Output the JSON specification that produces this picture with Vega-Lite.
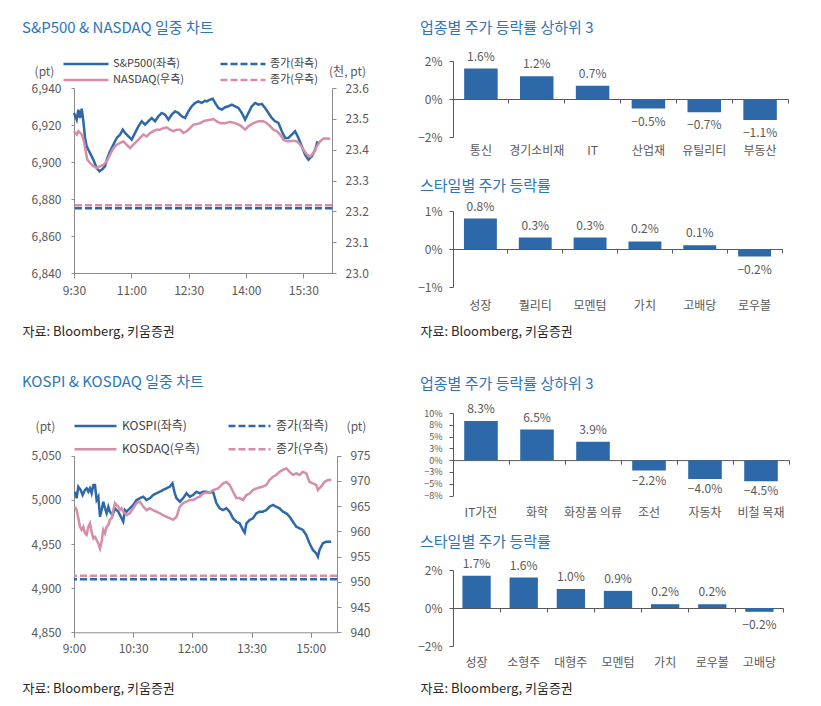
{
  "$schema": "https://vega.github.io/schema/vega-lite/v6.json",
  "background": "white",
  "padding": {"left": 22, "top": 20, "right": 5, "bottom": 5},
  "datasets": {
    "spx": [
      {"t":0,"v":6926.5},{"t":4.2,"v":6922.9},{"t":6.8,"v":6928.3},{"t":9.4,"v":6923.8},{"t":12.1,"v":6928.8},{"t":14.7,"v":6922.0},
      {"t":17.3,"v":6913.0},{"t":19.9,"v":6908.5},{"t":22.5,"v":6906.6},{"t":25.1,"v":6904.9},{"t":30.4,"v":6901.2},{"t":35.6,"v":6896.8},
      {"t":39.8,"v":6895.0},{"t":43.5,"v":6895.8},{"t":48.7,"v":6897.7},{"t":52.4,"v":6902.2},{"t":56.6,"v":6905.8},{"t":61.8,"v":6909.4},
      {"t":67.1,"v":6913.0},{"t":72.3,"v":6914.8},{"t":76.5,"v":6917.5},{"t":80.1,"v":6915.7},{"t":85.4,"v":6913.9},{"t":90.6,"v":6912.1},
      {"t":95.8,"v":6915.7},{"t":101.1,"v":6919.3},{"t":106.3,"v":6922.0},{"t":111.5,"v":6920.2},{"t":116.8,"v":6922.0},{"t":122.0,"v":6923.8},
      {"t":127.3,"v":6922.0},{"t":132.5,"v":6924.7},{"t":137.7,"v":6926.5},{"t":143.0,"v":6925.6},{"t":148.2,"v":6922.9},{"t":153.4,"v":6925.6},
      {"t":158.7,"v":6927.4},{"t":163.9,"v":6926.5},{"t":169.1,"v":6924.7},{"t":174.4,"v":6923.8},{"t":179.6,"v":6927.4},{"t":184.8,"v":6930.1},
      {"t":190.1,"v":6931.9},{"t":195.3,"v":6932.8},{"t":200.5,"v":6931.9},{"t":205.8,"v":6933.1},{"t":208.4,"v":6932.8},{"t":213.7,"v":6933.7},
      {"t":217.9,"v":6934.2},{"t":221.5,"v":6931.9},{"t":226.7,"v":6929.2},{"t":232.0,"v":6928.3},{"t":237.2,"v":6929.6},{"t":242.4,"v":6930.1},
      {"t":247.7,"v":6931.0},{"t":252.9,"v":6930.1},{"t":258.1,"v":6929.2},{"t":263.4,"v":6926.5},{"t":268.6,"v":6922.9},{"t":273.8,"v":6926.5},
      {"t":279.1,"v":6930.1},{"t":284.3,"v":6931.9},{"t":289.5,"v":6931.0},{"t":294.8,"v":6931.4},{"t":300.0,"v":6929.2},{"t":305.2,"v":6926.5},
      {"t":310.5,"v":6923.8},{"t":315.7,"v":6922.0},{"t":320.9,"v":6921.1},{"t":326.2,"v":6916.6},{"t":331.4,"v":6913.0},{"t":336.6,"v":6913.0},
      {"t":341.9,"v":6914.8},{"t":347.1,"v":6916.6},{"t":352.3,"v":6913.0},{"t":357.6,"v":6908.5},{"t":362.8,"v":6903.9},{"t":368.0,"v":6901.2},
      {"t":373.3,"v":6903.1},{"t":378.5,"v":6906.6},{"t":382.2,"v":6911.2}
    ],
    "ndx": [
      {"t":0,"v":23.460},{"t":4.2,"v":23.449},{"t":6.8,"v":23.460},{"t":12.1,"v":23.449},{"t":15.7,"v":23.427},{"t":18.3,"v":23.395},
      {"t":20.9,"v":23.368},{"t":25.1,"v":23.357},{"t":30.4,"v":23.346},{"t":35.6,"v":23.341},{"t":40.8,"v":23.346},{"t":46.1,"v":23.351},
      {"t":51.3,"v":23.362},{"t":56.6,"v":23.384},{"t":61.8,"v":23.405},{"t":67.1,"v":23.416},{"t":72.3,"v":23.422},{"t":77.5,"v":23.427},
      {"t":82.7,"v":23.416},{"t":88.0,"v":23.405},{"t":93.2,"v":23.416},{"t":98.4,"v":23.427},{"t":103.7,"v":23.438},{"t":108.9,"v":23.449},
      {"t":114.1,"v":23.443},{"t":119.4,"v":23.454},{"t":124.6,"v":23.460},{"t":129.9,"v":23.465},{"t":135.1,"v":23.465},{"t":140.3,"v":23.470},
      {"t":145.6,"v":23.472},{"t":150.8,"v":23.465},{"t":156.0,"v":23.460},{"t":161.3,"v":23.465},{"t":166.5,"v":23.465},{"t":171.7,"v":23.454},
      {"t":177.0,"v":23.460},{"t":182.2,"v":23.470},{"t":187.4,"v":23.481},{"t":192.7,"v":23.483},{"t":197.9,"v":23.486},{"t":203.1,"v":23.492},
      {"t":205.8,"v":23.494},{"t":213.7,"v":23.497},{"t":218.9,"v":23.499},{"t":224.1,"v":23.492},{"t":229.4,"v":23.486},{"t":237.2,"v":23.486},
      {"t":245.1,"v":23.490},{"t":252.9,"v":23.486},{"t":260.8,"v":23.479},{"t":268.6,"v":23.465},{"t":273.8,"v":23.476},{"t":281.7,"v":23.486},
      {"t":289.5,"v":23.492},{"t":297.4,"v":23.492},{"t":302.6,"v":23.486},{"t":307.9,"v":23.476},{"t":313.1,"v":23.465},{"t":318.4,"v":23.460},
      {"t":323.6,"v":23.449},{"t":328.8,"v":23.432},{"t":334.1,"v":23.427},{"t":339.3,"v":23.427},{"t":344.5,"v":23.429},{"t":349.8,"v":23.427},
      {"t":355.0,"v":23.416},{"t":360.2,"v":23.400},{"t":365.5,"v":23.384},{"t":370.7,"v":23.378},{"t":375.9,"v":23.389},{"t":381.2,"v":23.411},
      {"t":386.4,"v":23.427},{"t":391.6,"v":23.436},{"t":396.9,"v":23.436},{"t":402.1,"v":23.435}
    ],
    "usClose": [{"idx":"S&P500","v":6875},{"idx":"NASDAQ","v":23.22}],
    "kospi": [
      {"t":1.5,"v":5009.2},{"t":4.0,"v":5001.8},{"t":6.6,"v":5014.9},{"t":10.1,"v":5011.2},{"t":13.1,"v":5005.5},{"t":16.7,"v":5011.2},
      {"t":19.2,"v":5013.1},{"t":21.8,"v":5009.2},{"t":24.3,"v":5013.1},{"t":26.8,"v":5007.4},{"t":29.4,"v":5016.8},{"t":31.9,"v":5016.8},
      {"t":34.4,"v":4999.8},{"t":37.0,"v":5003.6},{"t":39.5,"v":4980.9},{"t":42.0,"v":4988.5},{"t":44.6,"v":4997.9},{"t":47.1,"v":4990.4},
      {"t":49.6,"v":4984.8},{"t":52.2,"v":4992.2},{"t":54.6,"v":4986.6},{"t":58.7,"v":4982.8},{"t":62.2,"v":4990.4},{"t":67.3,"v":4986.6},
      {"t":72.4,"v":4979.1},{"t":74.9,"v":4975.3},{"t":77.4,"v":4988.5},{"t":79.9,"v":4986.6},{"t":85.0,"v":4990.4},{"t":90.1,"v":4994.2},
      {"t":95.1,"v":4999.8},{"t":100.2,"v":5001.8},{"t":105.3,"v":5003.6},{"t":110.3,"v":4999.8},{"t":115.4,"v":5001.8},{"t":120.4,"v":5005.5},
      {"t":125.5,"v":5007.4},{"t":130.5,"v":5009.2},{"t":135.6,"v":5011.2},{"t":140.7,"v":5013.1},{"t":145.7,"v":5014.9},{"t":149.8,"v":5018.7},
      {"t":153.3,"v":5007.4},{"t":155.9,"v":5001.8},{"t":160.9,"v":4997.9},{"t":165.9,"v":5001.8},{"t":171.1,"v":5007.4},{"t":176.1,"v":5003.6},
      {"t":181.1,"v":5005.5},{"t":186.2,"v":5009.2},{"t":191.3,"v":5007.4},{"t":196.3,"v":5009.2},{"t":201.4,"v":5009.2},{"t":206.4,"v":5008.0},
      {"t":211.5,"v":5009.2},{"t":216.6,"v":4996.1},{"t":221.6,"v":4990.4},{"t":226.6,"v":4988.5},{"t":231.7,"v":4990.4},{"t":236.8,"v":4986.6},
      {"t":241.8,"v":4979.1},{"t":246.9,"v":4975.3},{"t":252.0,"v":4973.4},{"t":257.0,"v":4965.9},{"t":259.6,"v":4962.8},{"t":262.2,"v":4973.4},
      {"t":267.2,"v":4977.2},{"t":272.2,"v":4979.1},{"t":277.3,"v":4984.8},{"t":282.3,"v":4986.6},{"t":287.4,"v":4986.6},{"t":292.5,"v":4988.5},
      {"t":297.5,"v":4992.2},{"t":302.5,"v":4994.2},{"t":307.6,"v":4992.2},{"t":312.7,"v":4990.4},{"t":317.7,"v":4986.6},{"t":322.8,"v":4984.8},
      {"t":327.9,"v":4980.9},{"t":332.9,"v":4975.3},{"t":338.1,"v":4969.6},{"t":343.1,"v":4967.8},{"t":348.1,"v":4965.9},{"t":353.2,"v":4960.2},
      {"t":358.2,"v":4950.8},{"t":363.3,"v":4943.2},{"t":368.4,"v":4939.5},{"t":370.9,"v":4935.6},{"t":373.4,"v":4943.2},{"t":378.4,"v":4950.8},
      {"t":383.6,"v":4952.6},{"t":391.2,"v":4952.6}
    ],
    "kosdaq": [
      {"t":1.5,"v":964.9},{"t":4.0,"v":964.2},{"t":6.6,"v":962.6},{"t":9.1,"v":960.9},{"t":11.6,"v":960.3},{"t":14.2,"v":960.9},
      {"t":16.7,"v":959.6},{"t":19.2,"v":959.3},{"t":21.8,"v":960.9},{"t":24.3,"v":961.6},{"t":26.8,"v":959.9},{"t":29.4,"v":958.6},
      {"t":31.9,"v":958.9},{"t":34.4,"v":958.3},{"t":37.0,"v":957.6},{"t":39.5,"v":956.6},{"t":42.0,"v":958.0},{"t":44.6,"v":960.3},
      {"t":47.1,"v":959.6},{"t":49.6,"v":960.9},{"t":52.2,"v":961.3},{"t":54.6,"v":962.3},{"t":57.2,"v":962.6},{"t":59.7,"v":964.2},
      {"t":62.2,"v":965.6},{"t":64.8,"v":965.2},{"t":67.3,"v":964.9},{"t":69.8,"v":964.2},{"t":72.4,"v":964.6},{"t":74.9,"v":963.9},
      {"t":77.4,"v":963.6},{"t":79.9,"v":963.2},{"t":85.0,"v":963.6},{"t":90.1,"v":964.6},{"t":95.1,"v":965.6},{"t":100.2,"v":965.9},
      {"t":105.3,"v":964.9},{"t":110.3,"v":964.2},{"t":115.4,"v":964.6},{"t":120.4,"v":964.2},{"t":125.5,"v":963.9},{"t":130.5,"v":963.6},
      {"t":135.6,"v":963.2},{"t":140.7,"v":962.9},{"t":145.7,"v":962.6},{"t":150.7,"v":962.3},{"t":155.9,"v":962.9},{"t":160.9,"v":964.9},
      {"t":165.9,"v":965.6},{"t":171.1,"v":965.9},{"t":176.1,"v":966.2},{"t":181.1,"v":966.2},{"t":186.2,"v":966.6},{"t":191.3,"v":966.9},
      {"t":196.3,"v":967.5},{"t":201.4,"v":967.7},{"t":206.4,"v":967.7},{"t":211.5,"v":968.2},{"t":219.1,"v":968.5},{"t":226.6,"v":969.5},
      {"t":231.7,"v":969.8},{"t":236.8,"v":969.2},{"t":241.8,"v":967.9},{"t":246.9,"v":966.6},{"t":252.0,"v":966.6},{"t":257.0,"v":966.2},
      {"t":262.2,"v":967.2},{"t":267.2,"v":967.5},{"t":272.2,"v":968.2},{"t":277.3,"v":968.5},{"t":282.3,"v":968.7},{"t":287.4,"v":968.9},
      {"t":292.5,"v":969.2},{"t":297.5,"v":970.2},{"t":302.5,"v":970.8},{"t":307.6,"v":971.2},{"t":312.7,"v":971.8},{"t":317.7,"v":972.2},
      {"t":322.8,"v":972.5},{"t":327.9,"v":971.8},{"t":332.9,"v":971.2},{"t":338.1,"v":971.5},{"t":343.1,"v":971.2},{"t":348.1,"v":971.8},
      {"t":353.2,"v":971.5},{"t":358.2,"v":969.8},{"t":363.3,"v":969.5},{"t":368.4,"v":969.2},{"t":370.9,"v":968.2},{"t":376.0,"v":968.9},
      {"t":381.0,"v":969.8},{"t":386.1,"v":970.2},{"t":391.2,"v":970.2}
    ],
    "krClose": [{"idx":"KOSPI","v":4910},{"idx":"KOSDAQ","v":951.2}],
    "usSector": [
      {"name":"통신","chg":0.016},{"name":"경기소비재","chg":0.012},{"name":"IT","chg":0.007},
      {"name":"산업재","chg":-0.005},{"name":"유틸리티","chg":-0.007},{"name":"부동산","chg":-0.011}
    ],
    "usStyle": [
      {"name":"성장","chg":0.008},{"name":"퀄리티","chg":0.003},{"name":"모멘텀","chg":0.003},
      {"name":"가치","chg":0.002},{"name":"고배당","chg":0.001},{"name":"로우볼","chg":-0.002}
    ],
    "krSector": [
      {"name":"IT가전","chg":0.083},{"name":"화학","chg":0.065},{"name":"화장품 의류","chg":0.039},
      {"name":"조선","chg":-0.022},{"name":"자동차","chg":-0.04},{"name":"비철 목재","chg":-0.045}
    ],
    "krStyle": [
      {"name":"성장","chg":0.017},{"name":"소형주","chg":0.016},{"name":"대형주","chg":0.01},{"name":"모멘텀","chg":0.009},
      {"name":"가치","chg":0.002},{"name":"로우볼","chg":0.002},{"name":"고배당","chg":-0.002}
    ]
  },
  "spacing": 47,
  "hconcat": [
    {
      "spacing": 88,
      "bounds": "flush",
      "resolve": {"scale": {"color": "independent", "strokeDash": "independent"}},
      "vconcat": [
        {
          "width": 258,
          "height": 212,
          "title": {"text": "S&P500 & NASDAQ 일중 차트", "dx": -52, "offset": 21.5},
          "layer": [
            {
              "layer": [
                {
                  "data": {"name": "spx"},
                  "mark": {"type": "line", "strokeWidth": 2.5},
                  "encoding": {
                    "x": {"field": "t", "type": "quantitative",
                      "scale": {"domain": [0, 405], "nice": false, "zero": false},
                      "axis": {"values": [0, 90, 180, 270, 360],
                        "labelExpr": "['9:30','11:00','12:30','14:00','15:30'][datum.value / 90]",
                        "tickSize": 5, "labelPadding": 7,
                        "title": "자료: Bloomberg, 키움증권", "titleX": -52, "titleY": 62, "titleAlign": "left",
                        "titleAnchor": "start", "titleBaseline": "alphabetic", "titleFontSize": 13, "titleColor": "#262626"}},
                    "y": {"field": "v", "type": "quantitative",
                      "scale": {"domain": [6840, 6940], "range": [212, 27], "nice": false, "zero": false},
                      "axis": {"orient": "left", "values": [6840, 6860, 6880, 6900, 6920, 6940], "format": ",.0f",
                        "tickSize": 3, "labelPadding": 10, "title": "(pt)", "titleAngle": 0, "titleAlign": "center",
                        "titleBaseline": "middle", "titleX": -30, "titleY": 10}},
                    "color": {"datum": "S&P500(좌측)", "type": "nominal",
                      "scale": {"domain": ["S&P500(좌측)", "종가(좌측)", "NASDAQ(우측)", "종가(우측)"],
                        "range": ["#2D69A8", "#2D69A8", "#D68EA6", "#D68EA6"]},
                      "legend": {"orient": "none", "legendX": -12, "legendY": -4, "direction": "horizontal", "columns": 2,
                        "title": null, "symbolType": "stroke", "symbolSize": 2025, "symbolStrokeWidth": 2.5,
                        "clipHeight": 14, "rowPadding": 2, "columnPadding": 34, "labelOffset": 3, "labelFontSize": 11}},
                    "strokeDash": {"datum": "S&P500(좌측)", "type": "nominal",
                      "scale": {"domain": ["S&P500(좌측)", "종가(좌측)", "NASDAQ(우측)", "종가(우측)"],
                        "range": [[1, 0], [7, 3], [1, 0], [7, 3]]},
                      "legend": {"orient": "none", "legendX": -12, "legendY": -4, "direction": "horizontal", "columns": 2,
                        "title": null, "symbolType": "stroke", "symbolSize": 2025, "symbolStrokeWidth": 2.5,
                        "clipHeight": 14, "rowPadding": 2, "columnPadding": 34, "labelOffset": 3, "labelFontSize": 11}}
                  }
                },
                {
                  "data": {"name": "usClose"},
                  "transform": [{"filter": "datum.idx === 'S&P500'"}],
                  "mark": {"type": "rule", "strokeWidth": 2.5},
                  "encoding": {
                    "y": {"field": "v", "type": "quantitative",
                      "scale": {"domain": [6840, 6940], "range": [212, 27], "nice": false, "zero": false},
                      "axis": {"orient": "left", "values": [6840, 6860, 6880, 6900, 6920, 6940], "format": ",.0f",
                        "tickSize": 3, "labelPadding": 10, "title": "(pt)", "titleAngle": 0, "titleAlign": "center",
                        "titleBaseline": "middle", "titleX": -30, "titleY": 10}},
                    "color": {"datum": "종가(좌측)", "type": "nominal"},
                    "strokeDash": {"datum": "종가(좌측)", "type": "nominal"}
                  }
                }
              ]
            },
            {
              "layer": [
                {
                  "data": {"name": "ndx"},
                  "mark": {"type": "line", "strokeWidth": 2.5},
                  "encoding": {
                    "x": {"field": "t", "type": "quantitative", "scale": {"domain": [0, 405], "nice": false, "zero": false}},
                    "y": {"field": "v", "type": "quantitative",
                      "scale": {"domain": [23.0, 23.6], "range": [212, 27], "nice": false, "zero": false},
                      "axis": {"orient": "right", "values": [23.0, 23.1, 23.2, 23.3, 23.4, 23.5, 23.6], "format": ".1f",
                        "tickSize": 4, "labelPadding": 9, "title": "(천, pt)", "titleAngle": 0, "titleAlign": "center",
                        "titleBaseline": "middle", "titleX": 15, "titleY": 10}},
                    "color": {"datum": "NASDAQ(우측)", "type": "nominal"},
                    "strokeDash": {"datum": "NASDAQ(우측)", "type": "nominal"}
                  }
                },
                {
                  "data": {"name": "usClose"},
                  "transform": [{"filter": "datum.idx === 'NASDAQ'"}],
                  "mark": {"type": "rule", "strokeWidth": 2.5},
                  "encoding": {
                    "y": {"field": "v", "type": "quantitative",
                      "scale": {"domain": [23.0, 23.6], "range": [212, 27], "nice": false, "zero": false},
                      "axis": {"orient": "right", "values": [23.0, 23.1, 23.2, 23.3, 23.4, 23.5, 23.6], "format": ".1f",
                        "tickSize": 4, "labelPadding": 9, "title": "(천, pt)", "titleAngle": 0, "titleAlign": "center",
                        "titleBaseline": "middle", "titleX": 15, "titleY": 10}},
                    "color": {"datum": "종가(우측)", "type": "nominal"},
                    "strokeDash": {"datum": "종가(우측)", "type": "nominal"}
                  }
                }
              ]
            }
          ],
          "resolve": {"scale": {"y": "independent"}, "axis": {"y": "independent"}}
        },
        {
          "width": 263,
          "height": 271.3,
          "title": {"text": "KOSPI & KOSDAQ 일중 차트", "dx": -52, "offset": -29},
          "layer": [
            {
              "layer": [
                {
                  "data": {"name": "kospi"},
                  "mark": {"type": "line", "strokeWidth": 2.5},
                  "encoding": {
                    "x": {"field": "t", "type": "quantitative",
                      "scale": {"domain": [0, 400], "nice": false, "zero": false},
                      "axis": {"values": [0, 90, 180, 270, 360],
                        "labelExpr": "['9:00','10:30','12:00','13:30','15:00'][datum.value / 90]",
                        "tickSize": 5, "labelPadding": 6,
                        "title": "자료: Bloomberg, 키움증권", "titleX": -52, "titleY": 60, "titleAlign": "left",
                        "titleAnchor": "start", "titleBaseline": "alphabetic", "titleFontSize": 13, "titleColor": "#262626"}},
                    "y": {"field": "v", "type": "quantitative",
                      "scale": {"domain": [4850, 5050], "range": [271.3, 94.7], "nice": false, "zero": false},
                      "axis": {"orient": "left", "values": [4850, 4900, 4950, 5000, 5050], "format": ",.0f",
                        "tickSize": 3, "labelPadding": 10, "title": "(pt)", "titleAngle": 0, "titleAlign": "center",
                        "titleBaseline": "middle", "titleX": -29, "titleY": 65.7}},
                    "color": {"datum": "KOSPI(좌측)", "type": "nominal",
                      "scale": {"domain": ["KOSPI(좌측)", "종가(좌측)", "KOSDAQ(우측)", "종가(우측)"],
                        "range": ["#2D69A8", "#2D69A8", "#D68EA6", "#D68EA6"]},
                      "legend": {"orient": "none", "legendX": -1, "legendY": 57.9, "direction": "horizontal", "columns": 2,
                        "title": null, "symbolType": "stroke", "symbolSize": 1764, "symbolStrokeWidth": 2.5,
                        "clipHeight": 14, "rowPadding": 9.4, "columnPadding": 27, "labelOffset": 4}},
                    "strokeDash": {"datum": "KOSPI(좌측)", "type": "nominal",
                      "scale": {"domain": ["KOSPI(좌측)", "종가(좌측)", "KOSDAQ(우측)", "종가(우측)"],
                        "range": [[1, 0], [7, 3], [1, 0], [7, 3]]},
                      "legend": {"orient": "none", "legendX": -1, "legendY": 57.9, "direction": "horizontal", "columns": 2,
                        "title": null, "symbolType": "stroke", "symbolSize": 1764, "symbolStrokeWidth": 2.5,
                        "clipHeight": 14, "rowPadding": 9.4, "columnPadding": 27, "labelOffset": 4}}
                  }
                },
                {
                  "data": {"name": "krClose"},
                  "transform": [{"filter": "datum.idx === 'KOSPI'"}],
                  "mark": {"type": "rule", "strokeWidth": 2.5},
                  "encoding": {
                    "y": {"field": "v", "type": "quantitative",
                      "scale": {"domain": [4850, 5050], "range": [271.3, 94.7], "nice": false, "zero": false},
                      "axis": {"orient": "left", "values": [4850, 4900, 4950, 5000, 5050], "format": ",.0f",
                        "tickSize": 3, "labelPadding": 10, "title": "(pt)", "titleAngle": 0, "titleAlign": "center",
                        "titleBaseline": "middle", "titleX": -29, "titleY": 65.7}},
                    "color": {"datum": "종가(좌측)", "type": "nominal"},
                    "strokeDash": {"datum": "종가(좌측)", "type": "nominal"}
                  }
                }
              ]
            },
            {
              "layer": [
                {
                  "data": {"name": "kosdaq"},
                  "mark": {"type": "line", "strokeWidth": 2.5},
                  "encoding": {
                    "x": {"field": "t", "type": "quantitative", "scale": {"domain": [0, 400], "nice": false, "zero": false}},
                    "y": {"field": "v", "type": "quantitative",
                      "scale": {"domain": [940, 975], "range": [271.3, 94.7], "nice": false, "zero": false},
                      "axis": {"orient": "right", "values": [940, 945, 950, 955, 960, 965, 970, 975], "format": "d",
                        "tickSize": 4, "labelPadding": 9, "title": "(pt)", "titleAngle": 0, "titleAlign": "center",
                        "titleBaseline": "middle", "titleX": 19, "titleY": 65.7}},
                    "color": {"datum": "KOSDAQ(우측)", "type": "nominal"},
                    "strokeDash": {"datum": "KOSDAQ(우측)", "type": "nominal"}
                  }
                },
                {
                  "data": {"name": "krClose"},
                  "transform": [{"filter": "datum.idx === 'KOSDAQ'"}],
                  "mark": {"type": "rule", "strokeWidth": 2.5},
                  "encoding": {
                    "y": {"field": "v", "type": "quantitative",
                      "scale": {"domain": [940, 975], "range": [271.3, 94.7], "nice": false, "zero": false},
                      "axis": {"orient": "right", "values": [940, 945, 950, 955, 960, 965, 970, 975], "format": "d",
                        "tickSize": 4, "labelPadding": 9, "title": "(pt)", "titleAngle": 0, "titleAlign": "center",
                        "titleBaseline": "middle", "titleX": 19, "titleY": 65.7}},
                    "color": {"datum": "종가(우측)", "type": "nominal"},
                    "strokeDash": {"datum": "종가(우측)", "type": "nominal"}
                  }
                }
              ]
            }
          ],
          "resolve": {"scale": {"y": "independent"}, "axis": {"y": "independent"}}
        }
      ]
    },
    {
      "spacing": 74,
      "bounds": "flush",
      "vconcat": [
        {
          "width": 335,
          "height": 76,
          "title": {"text": "업종별 주가 등락률 상하위 3", "dx": -33, "offset": 15},
          "data": {"name": "usSector"},
          "layer": [
            {
              "mark": {"type": "bar", "width": {"band": 0.6}, "color": "#2D69A8"},
              "encoding": {
                "x": {"field": "name", "type": "nominal",
                  "scale": {"domain": ["통신", "경기소비재", "IT", "산업재", "유틸리티", "부동산"], "paddingInner": 0, "paddingOuter": 0},
                  "axis": {"orient": "bottom", "domain": false, "ticks": false, "labelAngle": 0, "labelPadding": 8, "title": null}},
                "y": {"field": "chg", "type": "quantitative", "scale": {"domain": [-0.02, 0.02], "nice": false},
                  "axis": {"values": [-0.02, 0, 0.02], "format": ".0%", "title": null, "tickSize": 4, "labelPadding": 7,
                    "domainColor": "#595959", "tickColor": "#595959"}}
              }
            },
            {
              "transform": [{"filter": "datum.chg >= 0"}],
              "mark": {"type": "text", "dy": -12, "baseline": "middle"},
              "encoding": {
                "x": {"field": "name", "type": "nominal",
                  "axis": {"orient": "bottom", "offset": -38, "labels": false, "ticks": true, "tickSize": 4,
                    "bandPosition": 1, "domain": true, "title": null, "domainColor": "#595959", "tickColor": "#595959"}},
                "y": {"field": "chg", "type": "quantitative",
                  "axis": {"values": [-0.02, 0, 0.02], "format": ".0%", "title": null, "tickSize": 4, "labelPadding": 7,
                    "domainColor": "#595959", "tickColor": "#595959"}},
                "text": {"field": "chg", "type": "quantitative", "format": ".1%"}
              }
            },
            {
              "transform": [{"filter": "datum.chg < 0"}],
              "mark": {"type": "text", "dy": 13, "baseline": "middle"},
              "encoding": {
                "x": {"field": "name", "type": "nominal", "axis": null},
                "y": {"field": "chg", "type": "quantitative",
                  "axis": {"values": [-0.02, 0, 0.02], "format": ".0%", "title": null, "tickSize": 4, "labelPadding": 7,
                    "domainColor": "#595959", "tickColor": "#595959"}},
                "text": {"field": "chg", "type": "quantitative", "format": ".1%"}
              }
            }
          ],
          "resolve": {"axis": {"x": "independent"}}
        },
        {
          "width": 329,
          "height": 76,
          "title": {"text": "스타일별 주가 등락률", "dx": -33, "offset": 7},
          "data": {"name": "usStyle"},
          "layer": [
            {
              "mark": {"type": "bar", "width": {"band": 0.6}, "color": "#2D69A8"},
              "encoding": {
                "x": {"field": "name", "type": "nominal",
                  "scale": {"domain": ["성장", "퀄리티", "모멘텀", "가치", "고배당", "로우볼"], "paddingInner": 0, "paddingOuter": 0},
                  "axis": {"orient": "bottom", "domain": false, "ticks": false, "labelAngle": 0, "labelPadding": 13,
                    "title": "자료: Bloomberg, 키움증권", "titleX": -33, "titleY": 48, "titleAlign": "left",
                    "titleAnchor": "start", "titleBaseline": "alphabetic", "titleFontSize": 13, "titleColor": "#262626"}},
                "y": {"field": "chg", "type": "quantitative", "scale": {"domain": [-0.01, 0.01], "nice": false},
                  "axis": {"values": [-0.01, 0, 0.01], "format": ".0%", "title": null, "tickSize": 4, "labelPadding": 7,
                    "domainColor": "#595959", "tickColor": "#595959"}}
              }
            },
            {
              "transform": [{"filter": "datum.chg >= 0"}],
              "mark": {"type": "text", "dy": -12, "baseline": "middle"},
              "encoding": {
                "x": {"field": "name", "type": "nominal",
                  "axis": {"orient": "bottom", "offset": -38, "labels": false, "ticks": true, "tickSize": 4,
                    "bandPosition": 1, "domain": true, "title": null, "domainColor": "#595959", "tickColor": "#595959"}},
                "y": {"field": "chg", "type": "quantitative",
                  "axis": {"values": [-0.01, 0, 0.01], "format": ".0%", "title": null, "tickSize": 4, "labelPadding": 7,
                    "domainColor": "#595959", "tickColor": "#595959"}},
                "text": {"field": "chg", "type": "quantitative", "format": ".1%"}
              }
            },
            {
              "transform": [{"filter": "datum.chg < 0"}],
              "mark": {"type": "text", "dy": 13, "baseline": "middle"},
              "encoding": {
                "x": {"field": "name", "type": "nominal", "axis": null},
                "y": {"field": "chg", "type": "quantitative",
                  "axis": {"values": [-0.01, 0, 0.01], "format": ".0%", "title": null, "tickSize": 4, "labelPadding": 7,
                    "domainColor": "#595959", "tickColor": "#595959"}},
                "text": {"field": "chg", "type": "quantitative", "format": ".1%"}
              }
            }
          ],
          "resolve": {"axis": {"x": "independent"}}
        },
        {
          "width": 336,
          "height": 134.5,
          "title": {"text": "업종별 주가 등락률 상하위 3", "dx": -33, "offset": -31},
          "data": {"name": "krSector"},
          "layer": [
            {
              "mark": {"type": "bar", "width": {"band": 0.6}, "color": "#2D69A8"},
              "encoding": {
                "x": {"field": "name", "type": "nominal",
                  "scale": {"domain": ["IT가전", "화학", "화장품 의류", "조선", "자동차", "비철 목재"], "paddingInner": 0, "paddingOuter": 0},
                  "axis": {"orient": "bottom", "domain": false, "ticks": false, "labelAngle": 0, "labelPadding": 12, "title": null}},
                "y": {"field": "chg", "type": "quantitative", "scale": {"domain": [-0.075, 0.1], "range": [134.5, 52], "nice": false},
                  "axis": {"values": [-0.075, -0.05, -0.025, 0, 0.025, 0.05, 0.075, 0.1], "format": ".0%", "title": null,
                    "tickSize": 4, "labelPadding": 7, "labelFontSize": 9, "domainColor": "#595959", "tickColor": "#595959"}}
              }
            },
            {
              "transform": [{"filter": "datum.chg >= 0"}],
              "mark": {"type": "text", "dy": -12, "baseline": "middle"},
              "encoding": {
                "x": {"field": "name", "type": "nominal",
                  "axis": {"orient": "bottom", "offset": -35.4, "labels": false, "ticks": true, "tickSize": 4,
                    "bandPosition": 1, "domain": true, "title": null, "domainColor": "#595959", "tickColor": "#595959"}},
                "y": {"field": "chg", "type": "quantitative",
                  "axis": {"values": [-0.075, -0.05, -0.025, 0, 0.025, 0.05, 0.075, 0.1], "format": ".0%", "title": null,
                    "tickSize": 4, "labelPadding": 7, "labelFontSize": 9, "domainColor": "#595959", "tickColor": "#595959"}},
                "text": {"field": "chg", "type": "quantitative", "format": ".1%"}
              }
            },
            {
              "transform": [{"filter": "datum.chg < 0"}],
              "mark": {"type": "text", "dy": 10, "baseline": "middle"},
              "encoding": {
                "x": {"field": "name", "type": "nominal", "axis": null},
                "y": {"field": "chg", "type": "quantitative",
                  "axis": {"values": [-0.075, -0.05, -0.025, 0, 0.025, 0.05, 0.075, 0.1], "format": ".0%", "title": null,
                    "tickSize": 4, "labelPadding": 7, "labelFontSize": 9, "domainColor": "#595959", "tickColor": "#595959"}},
                "text": {"field": "chg", "type": "quantitative", "format": ".1%"}
              }
            }
          ],
          "resolve": {"axis": {"x": "independent"}}
        },
        {
          "width": 330,
          "height": 76,
          "title": {"text": "스타일별 주가 등락률", "dx": -33, "offset": 8},
          "data": {"name": "krStyle"},
          "layer": [
            {
              "mark": {"type": "bar", "width": {"band": 0.6}, "color": "#2D69A8"},
              "encoding": {
                "x": {"field": "name", "type": "nominal",
                  "scale": {"domain": ["성장", "소형주", "대형주", "모멘텀", "가치", "로우볼", "고배당"], "paddingInner": 0, "paddingOuter": 0},
                  "axis": {"orient": "bottom", "domain": false, "ticks": false, "labelAngle": 0, "labelPadding": 11,
                    "title": "자료: Bloomberg, 키움증권", "titleX": -33, "titleY": 46, "titleAlign": "left",
                    "titleAnchor": "start", "titleBaseline": "alphabetic", "titleFontSize": 13, "titleColor": "#262626"}},
                "y": {"field": "chg", "type": "quantitative", "scale": {"domain": [-0.02, 0.02], "nice": false},
                  "axis": {"values": [-0.02, 0, 0.02], "format": ".0%", "title": null, "tickSize": 4, "labelPadding": 7,
                    "domainColor": "#595959", "tickColor": "#595959"}}
              }
            },
            {
              "transform": [{"filter": "datum.chg >= 0"}],
              "mark": {"type": "text", "dy": -12, "baseline": "middle"},
              "encoding": {
                "x": {"field": "name", "type": "nominal",
                  "axis": {"orient": "bottom", "offset": -38, "labels": false, "ticks": true, "tickSize": 4,
                    "bandPosition": 1, "domain": true, "title": null, "domainColor": "#595959", "tickColor": "#595959"}},
                "y": {"field": "chg", "type": "quantitative",
                  "axis": {"values": [-0.02, 0, 0.02], "format": ".0%", "title": null, "tickSize": 4, "labelPadding": 7,
                    "domainColor": "#595959", "tickColor": "#595959"}},
                "text": {"field": "chg", "type": "quantitative", "format": ".1%"}
              }
            },
            {
              "transform": [{"filter": "datum.chg < 0"}],
              "mark": {"type": "text", "dy": 13, "baseline": "middle"},
              "encoding": {
                "x": {"field": "name", "type": "nominal", "axis": null},
                "y": {"field": "chg", "type": "quantitative",
                  "axis": {"values": [-0.02, 0, 0.02], "format": ".0%", "title": null, "tickSize": 4, "labelPadding": 7,
                    "domainColor": "#595959", "tickColor": "#595959"}},
                "text": {"field": "chg", "type": "quantitative", "format": ".1%"}
              }
            }
          ],
          "resolve": {"axis": {"x": "independent"}}
        }
      ]
    }
  ],
  "config": {
    "font": "Noto Sans CJK KR",
    "view": {"stroke": null},
    "title": {"fontSize": 15, "fontWeight": "normal", "color": "#2E75B6", "anchor": "start", "frame": "group", "baseline": "alphabetic"},
    "axis": {"grid": false, "labelFontSize": 12, "labelColor": "#595959", "labelFontWeight": "normal",
      "titleFontWeight": "normal", "titleFontSize": 12, "titleColor": "#595959",
      "domainColor": "#8c8c8c", "tickColor": "#8c8c8c", "labelOverlap": false, "labelFlush": false},
    "legend": {"labelFontSize": 12, "labelColor": "#404040"},
    "text": {"fontSize": 12, "color": "#595959"}
  }
}
